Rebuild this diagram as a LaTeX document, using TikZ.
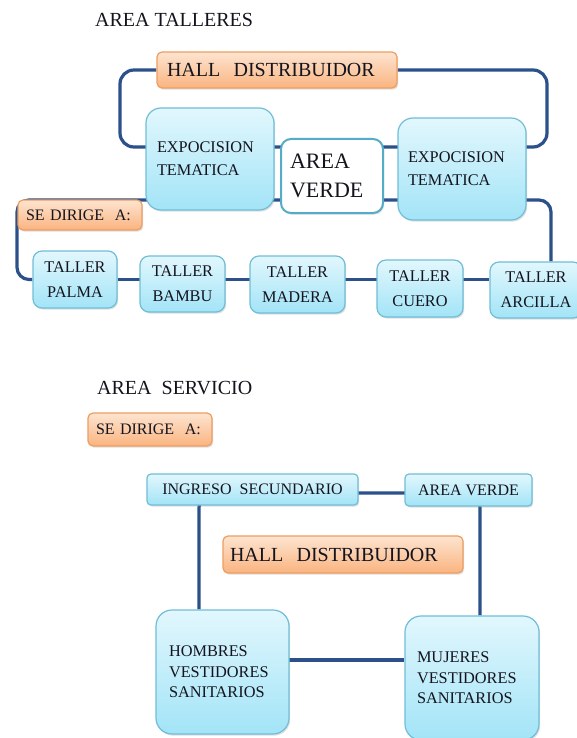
\documentclass[tikz,border=0pt]{standalone}
\usepackage{fontspec}
\setmainfont{Liberation Serif}
\usetikzlibrary{shadows,backgrounds}
\definecolor{conn}{RGB}{44,80,138}
\definecolor{bluetop}{RGB}{226,247,253}
\definecolor{bluebot}{RGB}{162,228,247}
\definecolor{blueedge}{RGB}{112,190,215}
\definecolor{orgtop}{RGB}{253,228,208}
\definecolor{orgbot}{RGB}{250,180,128}
\definecolor{orgedge}{RGB}{238,158,96}
\definecolor{greenedge}{RGB}{84,172,200}
\definecolor{txt}{RGB}{20,20,30}
\tikzset{
  conn/.style={draw=conn, line width=3.2pt},
  basebox/.style={inner sep=0pt, line width=1.2pt, text=txt,
    drop shadow={shadow xshift=1.2pt, shadow yshift=-1.6pt, opacity=0.25}},
  bluebox/.style={basebox, draw=blueedge, top color=bluetop, bottom color=bluebot},
  orgbox/.style={basebox, draw=orgedge, top color=orgtop, bottom color=orgbot},
  whitebox/.style={basebox, draw=greenedge, line width=2pt, fill=white},
  big/.style={font=\fontsize{20}{24}\selectfont},
  title/.style={font=\fontsize{20}{22}\selectfont, anchor=west, inner sep=0pt, text=txt},
}
\begin{document}
\begin{tikzpicture}[x=1pt,y=-1pt]
\useasboundingbox (0,0) rectangle (577,738);
\clip (0,0) rectangle (577,738);

% ---------- AREA TALLERES ----------
\node[title] (t1) at (95,20) {AREA TALLERES};

\node[orgbox, big, rounded corners=5pt, minimum width=240pt, minimum height=36pt,
      text width=220pt, align=left] (hallT) at (277,70) {HALL\ \ DISTRIBUIDOR};

\node[bluebox, rounded corners=15pt, minimum width=128pt, minimum height=102pt,
      text width=106pt, align=left, font=\fontsize{16.3}{23}\selectfont] (expoL) at (210,159) {EXPOCISION\\TEMATICA};
\node[whitebox, rounded corners=10pt, minimum width=102pt, minimum height=74pt,
      text width=84pt, align=left, font=\fontsize{22}{29}\selectfont] (verdeT) at (332,176) {AREA\\VERDE};
\node[bluebox, rounded corners=15pt, minimum width=128pt, minimum height=102pt,
      text width=108pt, align=left, font=\fontsize{16.3}{23}\selectfont] (expoR) at (462,169) {EXPOCISION\\TEMATICA};

\node[orgbox, rounded corners=5pt, minimum width=124pt, minimum height=30pt,
      text width=108pt, align=left, font=\fontsize{16}{20}\selectfont] (seT) at (80,215) {SE DIRIGE\ \ A:};

\node[bluebox, rounded corners=9pt, minimum width=84pt, minimum height=57pt,
      align=center, font=\fontsize{16.3}{25}\selectfont] (palma) at (75,279.5) {TALLER\\PALMA};
\node[bluebox, rounded corners=9pt, minimum width=85pt, minimum height=56pt,
      align=center, font=\fontsize{16.3}{25}\selectfont] (bambu) at (182.5,284) {TALLER\\BAMBU};
\node[bluebox, rounded corners=9pt, minimum width=95pt, minimum height=57pt,
      align=center, font=\fontsize{16.3}{25}\selectfont] (madera) at (297.5,284.5) {TALLER\\MADERA};
\node[bluebox, rounded corners=9pt, minimum width=86pt, minimum height=57pt,
      align=center, font=\fontsize{16.3}{25}\selectfont] (cuero) at (420,288.5) {TALLER\\CUERO};
\node[bluebox, rounded corners=9pt, minimum width=92pt, minimum height=56pt,
      align=center, font=\fontsize{16.3}{25}\selectfont] (arcilla) at (536,290) {TALLER\\ARCILLA};

\coordinate (ul) at (120,147);
\coordinate (ur) at (547,147);
\coordinate (ll) at (17,200);
\coordinate (lr) at (551,200);

% ---------- AREA SERVICIO ----------
\node[title] (t2) at (97,388) {AREA\ \ SERVICIO};

\node[orgbox, rounded corners=5pt, minimum width=124pt, minimum height=33pt,
      text width=108pt, align=left, font=\fontsize{16}{20}\selectfont] (seB) at (150,429.5) {SE DIRIGE\ \ A:};

\node[bluebox, rounded corners=4pt, minimum width=211pt, minimum height=31pt,
      align=center, font=\fontsize{16}{20}\selectfont] (ingreso) at (252.5,489.5) {INGRESO\ \ SECUNDARIO};
\node[bluebox, rounded corners=4pt, minimum width=127pt, minimum height=32pt,
      align=center, font=\fontsize{16}{20}\selectfont] (verdeB) at (468.5,490) {AREA VERDE};

\node[orgbox, big, rounded corners=5pt, minimum width=240pt, minimum height=37pt,
      text width=226pt, align=left] (hallB) at (343,554.5) {HALL\ \ DISTRIBUIDOR};

\node[bluebox, rounded corners=16pt, minimum width=133pt, minimum height=124pt,
      text width=107pt, align=left, font=\fontsize{16.3}{20.5}\selectfont] (hombres) at (222.5,672) {HOMBRES\\VESTIDORES\\SANITARIOS};
\node[bluebox, rounded corners=16pt, minimum width=134pt, minimum height=124pt,
      text width=110pt, align=left, font=\fontsize{16.3}{20.5}\selectfont] (mujeres) at (472,678) {MUJERES\\VESTIDORES\\SANITARIOS};

\coordinate (bl) at (199,493);
\coordinate (br) at (480,493);
\coordinate (hm) at (289,660);

\begin{scope}[on background layer]
  \fill[white] (0,0) rectangle (577,738);
  \draw[conn, rounded corners=14pt] (hallT.west) -| (ul) -- (ur) |- (hallT.east);
  \draw[conn, rounded corners=12pt] (arcilla.north -| lr) -- (lr) -- (ll) |- (palma.west);
  \draw[conn] (palma.east) -- (arcilla.west |- palma.east);
  \draw[conn, rounded corners=15pt] (hombres.north -| bl) -- (bl) -- (br) -- (mujeres.north -| br);
  \draw[conn] (hm) -- (mujeres.west |- hm);
\end{scope}
\end{tikzpicture}
\end{document}
